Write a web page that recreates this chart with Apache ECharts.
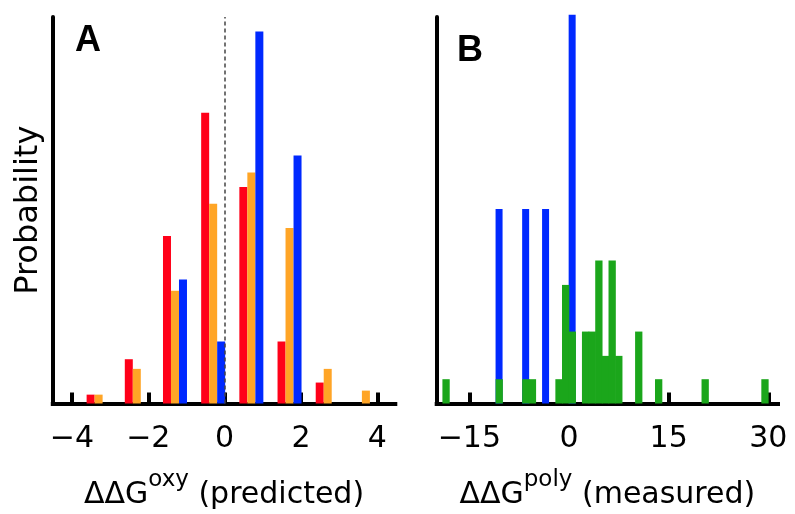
<!DOCTYPE html>
<html><head><meta charset="utf-8">
<script src="https://cdn.jsdelivr.net/npm/echarts@6/dist/echarts.min.js"></script>
<style>html,body{margin:0;padding:0;background:#fff}#c{width:795px;height:514px}</style>
</head><body><div id="c"></div>
<script>
// Panel A: ΔΔG^oxy (predicted), bin centres and probabilities
const binsA = [-3.3, -2.3, -1.3, -0.3, 0.7, 1.7, 2.7, 3.7];
const redA = [0.011, 0.055, 0.208, 0.361, 0.269, 0.077, 0.026, 0];
const orangeA = [0.011, 0.043, 0.140, 0.248, 0.287, 0.218, 0.043, 0.016];
const blueA = [0, 0, 0.154, 0.077, 0.462, 0.308, 0, 0];
const ticksA = [-4, -2, 0, 2, 4];

// Panel B: ΔΔG^poly (measured)
const binsBlueB = [-10.5, -6.5, -3.5, 0.5];
const blueB = [0.2, 0.2, 0.2, 0.4];
const binsGreenB = [-18.5, -10.5, -6.5, -5.5, -1.5, -0.5, 0.5, 2.5, 3.5, 4.5, 5.5, 6.5, 7.5, 10.5, 13.5, 20.5, 29.5];
const greenB = [0.025, 0.025, 0.025, 0.025, 0.025, 0.122, 0.074, 0.074, 0.074, 0.147, 0.049, 0.147, 0.049, 0.074, 0.025, 0.025, 0.025];
const ticksB = [-15, 0, 15, 30];

const RED = '#ff0019', ORANGE = '#ffa526', BLUE = '#0029ff', GREEN = '#1ba61b';
const pair = (xs, ys) => xs.map((x, i) => [x, ys[i]]);
const fmt = v => String(v).replace('-', '\u2212');

function xAxisCfg(grid, min, max, ticks, nameMain, nameSup, nameRest) {
  return {
    gridIndex: grid, type: 'value', min: min, max: max,
    axisLine: { onZero: false, lineStyle: { color: '#000', width: 4, cap: 'square' } },
    axisTick: { show: true, inside: true, length: 11, customValues: ticks, lineStyle: { color: '#000', width: 4 } },
    axisLabel: { customValues: ticks, formatter: fmt, fontFamily: 'DejaVu Sans', fontSize: 30, color: '#000', margin: 21 },
    splitLine: { show: false },
    name: '{m|' + nameMain + '}{s|' + nameSup + '}{m|' + nameRest + '}',
    nameLocation: 'middle', nameGap: 65,
    nameTextStyle: {
      rich: {
        m: { fontFamily: 'DejaVu Sans', fontSize: 30, color: '#000', lineHeight: 53 },
        s: { fontFamily: 'DejaVu Sans', fontSize: 23, color: '#000', lineHeight: 10, verticalAlign: 'top' }
      }
    }
  };
}
function yAxisCfg(grid, max, name) {
  return {
    gridIndex: grid, type: 'value', min: 0, max: max,
    axisLine: { show: true, onZero: false, lineStyle: { color: '#000', width: 4 } },
    axisTick: { show: false }, axisLabel: { show: false }, splitLine: { show: false },
    name: name, nameLocation: 'middle', nameGap: 8,
    nameTextStyle: { fontFamily: 'DejaVu Sans', fontSize: 32, color: '#000' }
  };
}

const chart = echarts.init(document.getElementById('c'), null, { renderer: 'canvas' });
chart.setOption({
  animation: false,
  backgroundColor: '#fff',
  grid: [
    { left: 52.8, top: 17, right: 399.7, bottom: 110.5, containLabel: false, outerBoundsMode: 'none' },
    { left: 436.7, top: 17, right: 17, bottom: 110.5, containLabel: false, outerBoundsMode: 'none' }
  ],
  xAxis: [
    xAxisCfg(0, -4.5, 4.47, ticksA, '\u0394\u0394G', 'oxy', ' (predicted)'),
    xAxisCfg(1, -19.91, 31.46, ticksB, '\u0394\u0394G', 'poly', ' (measured)')
  ],
  yAxis: [
    yAxisCfg(0, 0.48, 'Probability'),
    yAxisCfg(1, 0.3976, '')
  ],
  graphic: [
    { type: 'text', left: 75, top: 23, style: { text: 'A', font: 'bold 36px "Liberation Sans"', fill: '#000' } },
    { type: 'text', left: 457, top: 33, style: { text: 'B', font: 'bold 36px "Liberation Sans"', fill: '#000' } }
  ],
  series: [
    { type: 'bar', xAxisIndex: 0, yAxisIndex: 0, data: pair(binsA, redA), itemStyle: { color: RED }, barWidth: 8, barGap: '0%' },
    { type: 'bar', xAxisIndex: 0, yAxisIndex: 0, data: pair(binsA, orangeA), itemStyle: { color: ORANGE }, barWidth: 8, barGap: '0%',
      markLine: { silent: true, symbol: ['none', 'none'], label: { show: false },
        lineStyle: { type: [4, 3], color: '#444', width: 1.5 }, data: [{ xAxis: 0 }] } },
    { type: 'bar', xAxisIndex: 0, yAxisIndex: 0, data: pair(binsA, blueA), itemStyle: { color: BLUE }, barWidth: 8, barGap: '0%' },
    { type: 'bar', xAxisIndex: 1, yAxisIndex: 1, data: pair(binsBlueB, blueB), itemStyle: { color: BLUE }, barWidth: 7, barGap: '-100%', clip: false },
    { type: 'bar', xAxisIndex: 1, yAxisIndex: 1, data: pair(binsGreenB, greenB), itemStyle: { color: GREEN }, barWidth: 7.3, barGap: '-100%' }
  ]
});
</script>
</body></html>
